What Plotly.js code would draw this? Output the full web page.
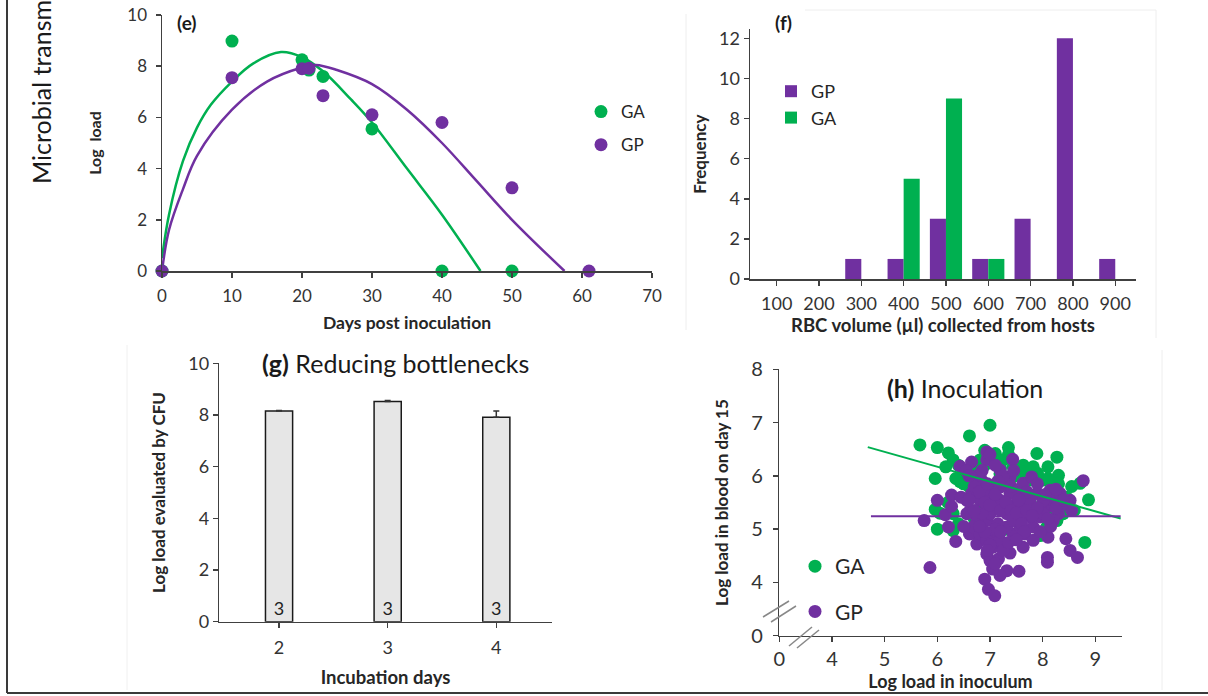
<!DOCTYPE html>
<html><head><meta charset="utf-8">
<script src="https://cdn.plot.ly/plotly-3.0.1.min.js"></script>
<style>html,body{margin:0;padding:0;background:#fff;}#chart{width:1208px;height:696px;}</style>
</head><body><div id="chart"></div>
<script>
// ---------- Panel (e): log load vs days post inoculation ----------
const gaDays = [0, 10, 20, 21, 23, 30, 40, 50];
const gaLoad = [0, 8.98, 8.25, 7.85, 7.6, 5.55, 0, 0];
const gpDays = [0, 10, 20, 21, 23, 30, 40, 50, 61];
const gpLoad = [0, 7.55, 7.9, 7.92, 6.85, 6.1, 5.8, 3.25, 0];
const gaFitDays = [0, 1, 3, 5, 7, 10, 13, 17, 20, 23, 27, 30, 35, 40, 45.5];
const gaFitLoad = [0.5, 2.2, 4.3, 5.6, 6.5, 7.4, 8.1, 8.55, 8.35, 7.8, 6.7, 5.8, 4.0, 2.2, 0];
const gpFitDays = [0, 1, 3, 5, 10, 15, 20, 22, 25, 30, 35, 40, 45, 50, 57.5];
const gpFitLoad = [0, 1.6, 3.2, 4.5, 6.3, 7.4, 7.95, 8.05, 7.85, 7.3, 6.3, 5.0, 3.5, 2.0, 0];

// ---------- Panel (f): RBC volume histogram ----------
const rbcBins = [100, 200, 300, 400, 500, 600, 700, 800, 900];
const gpFreq = [0, 0, 1, 1, 3, 1, 3, 12, 1];
const gaFreq = [0, 0, 0, 5, 9, 1, 0, 0, 0];

// ---------- Panel (g): reducing bottlenecks ----------
const incubationDays = [2, 3, 4];
const cfuLoad = [8.15, 8.52, 7.91];
const cfuErr = [0.02, 0.04, 0.24];
const nLabels = ['3', '3', '3'];

// ---------- Panel (h): inoculation ----------
const gaInocX = [5.67,6.0,6.61,7.0,6.21,6.3,6.16,5.96,6.4,6.9,7.1,7.35,7.25,7.63,7.89,8.27,8.1,8.3,8.55,8.71,8.87,8.8,5.96,6.0,6.3,6.3,6.43,6.62,6.81,7.57,7.76,8.01,8.2,7.82,8.08,8.27,8.39,7.95,7.0,6.87,7.44,7.19,7.82,6.5,6.05,8.45,7.5,6.7,8.0,7.3,
  6.5,6.7,6.9,7.2,7.5,7.7,7.9,8.1,8.3,6.35,6.6,7.35,7.0,8.5,8.6,8.15,6.2,6.4];
const gaInocY = [6.58,6.53,6.75,6.95,6.43,6.3,6.17,5.95,6.2,6.48,6.42,6.53,6.3,6.2,6.42,6.35,6.17,6.01,5.8,5.86,5.55,4.75,5.37,5.0,5.29,4.97,5.89,5.98,6.3,6.1,5.92,5.92,5.79,5.42,5.04,5.16,5.29,4.88,4.91,5.48,6.17,6.04,6.17,5.85,5.3,5.6,5.7,5.2,5.6,5.0,
  6.1,6.15,6.2,6.15,6.0,6.05,6.05,5.95,5.85,5.95,5.8,6.4,6.3,5.5,5.35,5.35,5.5,5.1];
const gpInocX = [5.86,5.75,6.0,6.15,6.27,6.27,6.21,6.35,6.43,6.65,6.94,6.94,7.43,7.19,7.06,6.84,6.56,6.62,6.72,6.61,6.75,6.94,7.0,7.16,7.38,7.55,7.32,7.19,6.9,6.97,7.09,7.06,7.19,7.44,7.63,7.66,7.82,7.76,7.57,7.51,7.63,7.79,7.89,8.08,8.14,8.2,8.33,8.1,8.09,8.09,8.44,8.52,8.66,8.52,8.55,8.77,8.3,7.95,7.32,7.06,6.81,6.94,6.75,7.19,7.38,7.19,7.38,6.65,6.56,6.68,7.06,7.32,7.57,7.82,8.2,8.01,7.76,7.57,7.0,7.0,6.81,6.94,7.19,7.44,6.55,6.75,7.1,6.9,7.3,7.45,6.85,7.15,7.25,7.05,8.0,7.9,8.35,6.45,6.5,7.7,8.15,
  6.7,6.8,6.9,7.0,7.1,7.2,7.3,7.4,7.5,7.6,7.1,6.9,7.0,7.2,7.35,6.8,6.7,6.6,7.4,7.55,7.7,7.9,8.1,8.25,8.4,7.8,7.65,7.5,6.95,7.25,7.15,6.85,7.0,6.6,7.45,8.05,8.25,7.95,6.95,7.1];
const gpInocY = [4.28,5.16,5.54,5.27,5.64,5.43,5.04,4.77,6.18,6.26,6.45,6.3,6.31,6.11,5.79,5.92,5.54,5.35,4.91,4.91,4.72,4.53,4.41,4.44,4.55,4.21,4.22,4.13,4.06,3.87,3.75,4.66,5.04,4.91,4.66,4.91,4.79,5.23,5.42,5.67,5.86,5.98,5.67,5.42,5.73,5.54,5.67,4.85,4.47,4.38,4.82,4.6,4.47,5.54,5.35,5.91,5.29,5.23,5.29,5.42,5.54,5.16,5.16,5.54,5.67,5.79,5.98,5.67,5.29,5.04,4.91,5.04,5.04,5.04,5.16,5.54,5.54,5.23,5.6,5.29,4.91,4.79,4.79,5.16,6.1,6.0,6.2,5.75,5.85,5.45,5.3,5.1,4.6,4.25,5.3,5.85,5.45,5.6,5.05,5.7,5.05,
  5.8,5.7,5.5,5.45,5.65,5.35,5.5,5.35,5.3,5.1,5.0,4.95,4.7,4.95,4.75,5.05,5.35,5.55,5.8,5.55,5.35,5.4,5.2,5.4,5.55,5.25,4.95,4.8,5.85,6.0,5.9,6.1,6.4,6.0,6.1,5.65,5.75,4.95,4.6,4.35];
const gaTrendX = [4.68, 9.48];
const gaTrendY = [6.54, 5.2];
const gpTrendX = [4.74, 9.48];
const gpTrendY = [5.24, 5.24];
const hTickVals = [3, 4, 5, 6, 7, 8, 9];
const hXTickText = ['0', '4', '5', '6', '7', '8', '9'];
const hYTickVals = [3, 4, 5, 6, 7, 8];
const hYTickText = ['0', '4', '5', '6', '7', '8'];

// ---------- styling ----------
const GREEN = '#00B050', PURPLE = '#7030A0';
const W = 1208, H = 696;
const px = x => x / W, py = y => 1 - y / H;
const FONT = 'Lato, "Open Sans", "Liberation Sans", sans-serif';
const AX = {showline: true, linecolor: '#404040', linewidth: 1.5, ticks: 'outside', ticklen: 5,
  tickcolor: '#404040', tickwidth: 1.5, showgrid: false, zeroline: false, fixedrange: true,
  tickfont: {size: 17, color: '#333'}};

const traces = [
  // (e)
  {x: gaFitDays, y: gaFitLoad, mode: 'lines', line: {color: GREEN, width: 2.5, shape: 'spline'}, showlegend: false, xaxis: 'x', yaxis: 'y', hoverinfo: 'skip'},
  {x: gpFitDays, y: gpFitLoad, mode: 'lines', line: {color: PURPLE, width: 2.5, shape: 'spline'}, showlegend: false, xaxis: 'x', yaxis: 'y', hoverinfo: 'skip'},
  {x: gaDays, y: gaLoad, name: 'GA', mode: 'markers', marker: {color: GREEN, size: 13}, cliponaxis: false, xaxis: 'x', yaxis: 'y', legend: 'legend', legendgroup: 'eGA'},
  {x: gpDays, y: gpLoad, name: 'GP', mode: 'markers', marker: {color: PURPLE, size: 13}, cliponaxis: false, xaxis: 'x', yaxis: 'y', legend: 'legend', legendgroup: 'eGP'},
  // (f)
  {type: 'bar', x: rbcBins, y: gpFreq, name: 'GP', width: 38, offset: -38, marker: {color: PURPLE}, xaxis: 'x2', yaxis: 'y2', legend: 'legend2'},
  {type: 'bar', x: rbcBins, y: gaFreq, name: 'GA', width: 38, offset: 0, marker: {color: GREEN}, xaxis: 'x2', yaxis: 'y2', legend: 'legend2'},
  // (g)
  {type: 'bar', x: incubationDays, y: cfuLoad, width: 0.25, showlegend: false,
   marker: {color: '#e6e6e6', line: {color: '#1a1a1a', width: 1.5}},
   error_y: {type: 'data', array: cfuErr, arrayminus: [0, 0, 0], symmetric: false, color: '#333', thickness: 1.5, width: 3},
   text: nLabels, textposition: 'inside', insidetextanchor: 'start', textangle: 0, constraintext: 'none',
   textfont: {size: 18, color: '#222'}, xaxis: 'x3', yaxis: 'y3'},
  // (h)
  {x: gaInocX, y: gaInocY, name: 'GA', mode: 'markers', marker: {color: GREEN, size: 13}, xaxis: 'x4', yaxis: 'y4', legend: 'legend3', legendgroup: 'hGA'},
  {x: gpInocX, y: gpInocY, name: 'GP', mode: 'markers', marker: {color: PURPLE, size: 13}, xaxis: 'x4', yaxis: 'y4', legend: 'legend3', legendgroup: 'hGP'},
  {x: gaTrendX, y: gaTrendY, mode: 'lines', line: {color: GREEN, width: 2}, showlegend: false, xaxis: 'x4', yaxis: 'y4', cliponaxis: false},
  {x: gpTrendX, y: gpTrendY, mode: 'lines', line: {color: PURPLE, width: 2}, showlegend: false, xaxis: 'x4', yaxis: 'y4', cliponaxis: false}
];

const line = (x0, y0, x1, y1, color, width) => ({type: 'line', xref: 'paper', yref: 'paper',
  x0: px(x0), y0: py(y0), x1: px(x1), y1: py(y1), line: {color: color, width: width}});
const note = (text, x, y, size, extra) => Object.assign({text: text, x: px(x), y: py(y), xref: 'paper', yref: 'paper',
  xanchor: 'center', yanchor: 'middle', showarrow: false, font: {size: size, color: '#1a1a1a'}}, extra || {});

const layout = {
  width: W, height: H, margin: {l: 0, r: 0, t: 0, b: 0},
  paper_bgcolor: '#fff', plot_bgcolor: 'rgba(0,0,0,0)',
  font: {family: FONT, color: '#262626'},
  barmode: 'overlay',
  xaxis: Object.assign({}, AX, {domain: [px(162), px(652)], range: [0, 70], dtick: 10, anchor: 'y', ticklabelstandoff: 4,
    title: {text: '<b>Days post inoculation</b>', font: {size: 17.5}, standoff: 12}}),
  yaxis: Object.assign({}, AX, {domain: [py(271), py(15)], range: [0, 10], dtick: 2, anchor: 'x', ticklabelstandoff: 5,
    title: {text: '<b>Log  load</b>', font: {size: 16}, standoff: 22}}),
  xaxis2: Object.assign({}, AX, {domain: [px(750), px(1136)], range: [37, 949], tickvals: rbcBins, anchor: 'y2', ticklabelstandoff: 3,
    tickfont: {size: 18, color: '#333'},
    title: {text: '<b>RBC volume (µl) collected from hosts</b>', font: {size: 18.5}, standoff: 6}}),
  yaxis2: Object.assign({}, AX, {domain: [py(279), py(29.3)], range: [0, 12.45], tickvals: [0, 2, 4, 6, 8, 10, 12], anchor: 'x2',
    tickfont: {size: 18, color: '#333'},
    title: {text: '<b>Frequency</b>', font: {size: 17}, standoff: 8}}),
  xaxis3: Object.assign({}, AX, {domain: [px(219.3), px(551.7)], range: [1.45, 4.51], tickvals: incubationDays, anchor: 'y3', ticklabelstandoff: 4,
    tickfont: {size: 18, color: '#333'},
    title: {text: '<b>Incubation days</b>', font: {size: 18.5}, standoff: 14}}),
  yaxis3: Object.assign({}, AX, {domain: [py(621.7), py(363.3)], range: [0, 10], dtick: 2, anchor: 'x3',
    tickfont: {size: 18, color: '#333'},
    title: {text: '<b>Log load evaluated by CFU</b>', font: {size: 17}, standoff: 18}}),
  xaxis4: Object.assign({}, AX, {domain: [px(779.3), px(1121.7)], range: [3, 9.5], tickvals: hTickVals, ticktext: hXTickText, anchor: 'y4',
    tickfont: {size: 20, color: '#333'},
    title: {text: '<b>Log load in inoculum</b>', font: {size: 18}, standoff: 0}}),
  yaxis4: Object.assign({}, AX, {domain: [py(635.7), py(369.3)], range: [3, 8], tickvals: hYTickVals, ticktext: hYTickText, anchor: 'x4', ticklabelstandoff: 6,
    tickfont: {size: 20, color: '#333'},
    title: {text: '<b>Log load in blood on day 15</b>', font: {size: 17}, standoff: 18}}),
  legend: {x: px(581), y: py(94), xanchor: 'left', yanchor: 'top', font: {size: 17}, bgcolor: 'rgba(0,0,0,0)', tracegroupgap: 8},
  legend2: {x: px(771), y: py(73), xanchor: 'left', yanchor: 'top', font: {size: 18}, bgcolor: 'rgba(0,0,0,0)', traceorder: 'normal'},
  legend3: {x: px(795), y: py(546), xanchor: 'left', yanchor: 'top', font: {size: 21}, bgcolor: 'rgba(0,0,0,0)', tracegroupgap: 15},
  annotations: [
    note('<b>(e)</b>', 187, 22, 19),
    note('<b>(f)</b>', 783, 22, 19),
    note('<b>(g)</b> Reducing bottlenecks', 395, 363, 25),
    note('<b>(h)</b> Inoculation', 965, 388, 25),
    note('Microbial transm', 41, 186, 25, {yanchor: 'bottom', textangle: -90})
  ],
  shapes: [
    line(7, 0, 7, 693, '#3a3a3a', 2),
    line(7, 693, 1208, 693, '#3a3a3a', 2),
    line(686, 14, 686, 330, '#eeeeee', 1),
    line(805, 10, 1156, 10, '#eeeeee', 1),
    line(1156, 10, 1156, 338, '#eeeeee', 1),
    line(127, 345, 127, 690, '#f0f0f0', 1),
    line(1162, 350, 1162, 690, '#eeeeee', 1),
    // axis-break marks in (h)
    line(763, 617, 789, 601, '#888', 1.5),
    line(771, 622, 796, 606, '#888', 1.5),
    line(789, 646, 812, 627, '#888', 1.5),
    line(797, 648, 819, 630, '#888', 1.5)
  ]
};

Plotly.newPlot('chart', traces, layout, {staticPlot: true, displayModeBar: false});
</script></body></html>
